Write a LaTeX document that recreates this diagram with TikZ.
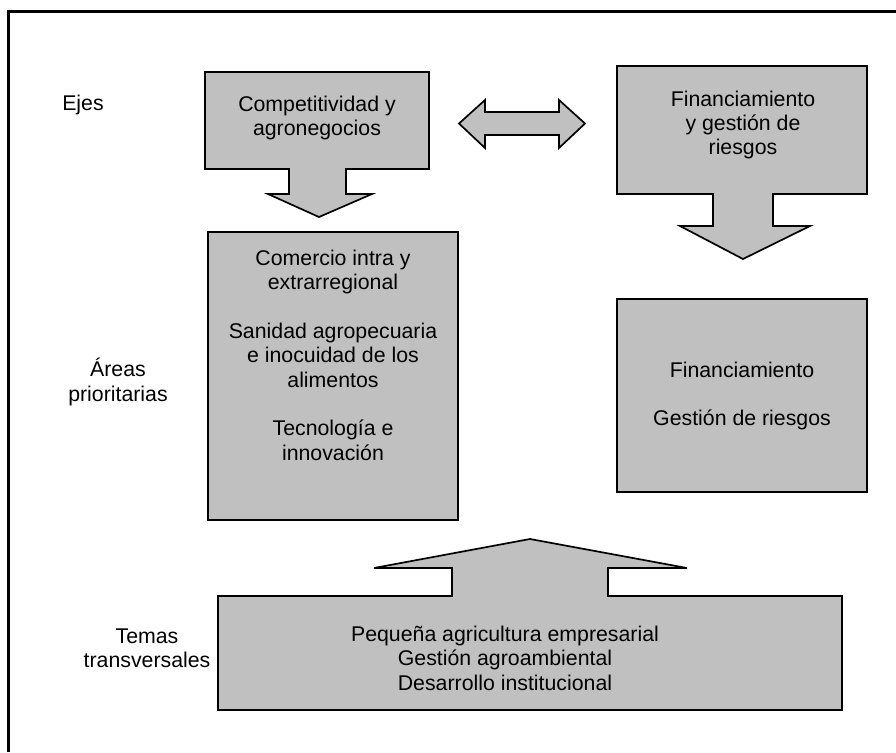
\documentclass[tikz,border=0pt]{standalone}
\usepackage{fontspec}
\setmainfont{Liberation Sans}
\definecolor{blockgray}{HTML}{C0C0C0}

\begin{document}
\begin{tikzpicture}[x=0.5pt,y=-0.5pt,
  block/.style={draw=black,line width=0.85pt,fill=blockgray},
  txt/.style={align=center,inner sep=0pt,font=\fontsize{10.65}{12.2}\selectfont}]

\useasboundingbox (0,0) rectangle (896,752);

\draw [line width=1.3pt] (8.5,752) -- (8.5,11.5) -- (896,11.5);

\draw [block] (205,72) -- (429,72) -- (429,169) -- (346,169) -- (346,194) -- (372,194) -- (319,217) -- (268,194) -- (289,194) -- (289,169) -- (205,169) -- cycle;

\draw [block] (459,123.5) -- (485,100) -- (485,112) -- (559,112) -- (559,100) -- (585,123.5) -- (559,148) -- (559,135) -- (485,135) -- (485,148) -- cycle;

\draw [block] (617,66) -- (867,66) -- (867,194) -- (773,194) -- (773,226) -- (810,226) -- (743,259) -- (680,226) -- (713,226) -- (713,194) -- (617,194) -- cycle;

\draw [block] (208,232) rectangle (458,520);

\draw [block] (617,299) rectangle (867,492);

\draw [block] (218,596) -- (452,596) -- (452,568) -- (374,568) -- (530,539) -- (687,568) -- (608,568) -- (608,596) -- (842,596) -- (842,710) -- (218,710) -- cycle;

\node [txt] (ejes) at (83,105) {Ejes};
\node [txt] (areas) at (118,382) {Áreas\\prioritarias};
\node [txt] (transv) at (147,648) {Temas\\transversales};

\node [txt] (compet) at (317,118) {Competitividad y\\agronegocios};
\node [txt] (financ) at (743,125) {Financiamiento\\y gestión de\\riesgos};

\node [txt] (comercio) at (333,355) {Comercio intra y\\extrarregional\\[12.2pt]Sanidad agropecuaria\\e inocuidad de los\\alimentos\\[12.2pt]Tecnología e\\innovación};
\node [txt] (riesgos) at (742,396) {Financiamiento\\[12.2pt]Gestión de riesgos};

\node [txt] (temas) at (505,658) {Pequeña agricultura empresarial\\Gestión agroambiental\\Desarrollo institucional};

\end{tikzpicture}
\end{document}
